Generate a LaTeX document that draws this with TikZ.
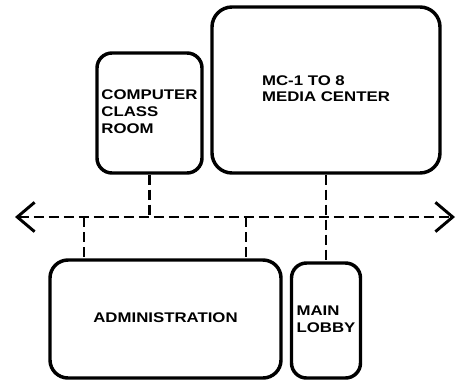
\documentclass[tikz,border=0pt]{standalone}
\usepackage{fontspec}
\setmainfont{Liberation Sans}
\usetikzlibrary{arrows.meta}

\newcommand{\roomlabel}[1]{\scalebox{1.2}[1]{\begin{tabular}{@{}l@{}}#1\end{tabular}}}

\tikzset{every picture/.style={line width=0.75pt}}
\tikzset{
  room/.style={draw, line width=2.6pt, rounded corners=#1, inner sep=0pt,
    font=\bfseries\fontsize{10.5}{12.5}\selectfont},
  link/.style={line width=1.8pt, dash pattern=on 7.5pt off 3.75pt},
  chevron/.style={line width=2.2pt, arrows={Straight Barb[length=13pt,width=22pt]-Straight Barb[length=13pt,width=22pt]}}
}

\begin{document}
\begin{tikzpicture}[x=0.75pt,y=0.75pt,yscale=-1,xscale=1]
    \useasboundingbox (0,0) rectangle (456,383);

    %Shape: Rooms
    \node [room=11.25pt, minimum width=78.75pt, minimum height=90pt] (comp) at (149.5,113) {\roomlabel{COMPUTER\\CLASS\\ROOM}};
    \node [room=15pt, minimum width=171pt, minimum height=124.5pt] (media) at (326,90) {\roomlabel{MC-1 TO 8\\MEDIA CENTER}};
    \node [room=13.5pt, minimum width=173.25pt, minimum height=88.5pt] (adm) at (165.5,319) {\roomlabel{ADMINISTRATION}};
    \node [room=11.25pt, minimum width=51.75pt, minimum height=86.25pt] (lobby) at (326,320.5) {\roomlabel{MAIN\\LOBBY}};

    %Straight Lines: bus
    \coordinate (busL) at (15,217);
    \coordinate (busR) at (455,217);
    \coordinate (tapA) at (84,217);
    \coordinate (tapB) at (246,217);
    \draw [link, chevron] (busL) -- (busR);

    %Straight Lines: drops
    \draw [link] (comp.south) -- (comp.south |- busL);
    \draw [link] (media.south) -- (lobby.north);
    \draw [link] (tapA) -- (tapA |- adm.north);
    \draw [link] (tapB) -- (tapB |- adm.north);

\end{tikzpicture}
\end{document}
